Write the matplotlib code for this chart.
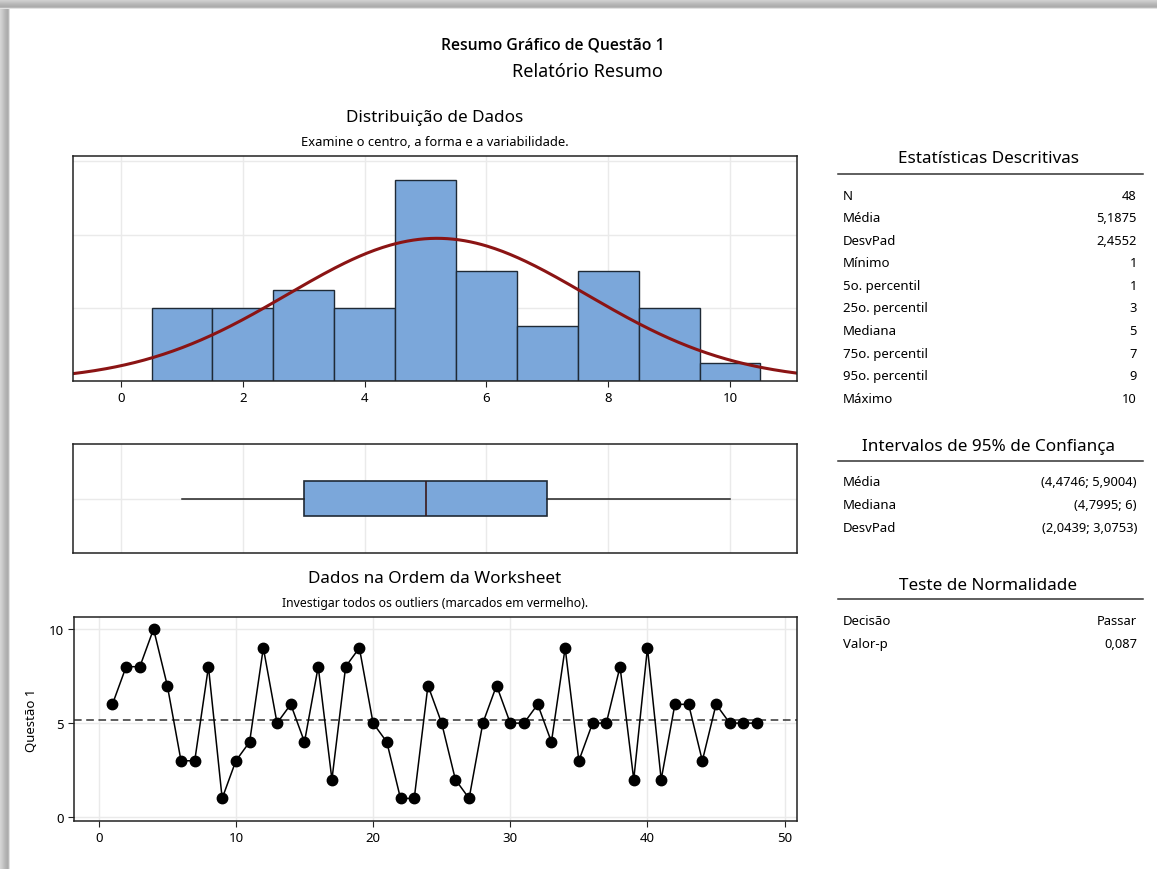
import numpy as np
import matplotlib
matplotlib.use('Agg')
import matplotlib.pyplot as plt
from matplotlib.patches import Rectangle

plt.rcParams['font.family'] = ['Noto Sans', 'DejaVu Sans']

# respostas na ordem da worksheet
questao1 = [6, 8, 8, 10, 7, 3, 3, 8, 1, 3,
            4, 9, 5, 6, 4, 8, 2, 8, 9, 5,
            4, 1, 1, 7, 5, 2, 1, 5, 7, 5,
            5, 6, 4, 9, 3, 5, 5, 8, 2, 9,
            2, 6, 6, 3, 6, 5, 5, 5]

desc_labels = ['N', 'Média', 'DesvPad', 'Mínimo', '5o. percentil', '25o. percentil',
               'Mediana', '75o. percentil', '95o. percentil', 'Máximo']
desc_values = ['48', '5,1875', '2,4552', '1', '1', '3', '5', '7', '9', '10']
ic_labels = ['Média', 'Mediana', 'DesvPad']
ic_values = ['(4,4746; 5,9004)', '(4,7995; 6)', '(2,0439; 3,0753)']
norm_labels = ['Decisão', 'Valor-p']
norm_values = ['Passar', '0,087']

W, H = 1157, 870
BAR = '#7BA7DA'
EDGE = '#1F2A36'
CURVE = '#8B1414'
GRID = '#EAEAEA'

fig = plt.figure(figsize=(W / 100, H / 100), dpi=100)
fig.patch.set_facecolor('white')


def box(l, t, r, b):
    return [l / W, 1 - b / H, (r - l) / W, (b - t) / H]


def fx(x):
    return x / W


def fy(y):
    return 1 - y / H


# sombra da janela (topo e esquerda)
shades = ['#d4d4d4', '#cfcfcf', '#c9c9c9', '#c2c2c2', '#bbbbbb', '#b5b5b5',
          '#b0b0b0', '#acacac', '#b8b8b8', '#e2e2e2']
for i, c in enumerate(shades):
    fig.add_artist(Rectangle((0, fy(i + 1)), 1, 1 / H, transform=fig.transFigure,
                             color=c, lw=0, zorder=0))
    fig.add_artist(Rectangle((fx(i), 0), 1 / W, fy(i), transform=fig.transFigure,
                             color=c, lw=0, zorder=0))

data = np.array(questao1)
n = len(data)
media = data.mean()
dp = data.std(ddof=1)


def style(ax):
    for s in ax.spines.values():
        s.set_color('#222222')
        s.set_linewidth(1.1)
    ax.set_axisbelow(True)
    ax.grid(True, color=GRID, lw=1)


# titulos
fig.text(fx(553), fy(45), 'Resumo Gráfico de Questão 1', ha='center', va='center',
         fontsize=11.3, fontweight='semibold', family=['Open Sans', 'DejaVu Sans'])
fig.text(fx(587), fy(72), 'Relatório Resumo', ha='center', va='center', fontsize=13)
fig.text(fx(435), fy(118), 'Distribuição de Dados', ha='center', va='center',
         fontsize=12.3)
fig.text(fx(435), fy(143), 'Examine o centro, a forma e a variabilidade.',
         ha='center', va='center', fontsize=9.3)
fig.text(fx(435), fy(579), 'Dados na Ordem da Worksheet', ha='center', va='center',
         fontsize=12.3)
fig.text(fx(435), fy(604), 'Investigar todos os outliers (marcados em vermelho).',
         ha='center', va='center', fontsize=8.8)

# histograma
ax1 = fig.add_axes(box(73, 157, 797, 382))
style(ax1)
ax1.hist(data, bins=np.arange(0.5, 11.5, 1), color=BAR, edgecolor=EDGE, lw=1)
xs = np.linspace(-1, 11.5, 400)
ys = n / (dp * np.sqrt(2 * np.pi)) * np.exp(-0.5 * ((xs - media) / dp) ** 2)
ax1.plot(xs, ys, color=CURVE, lw=2.2)
ax1.set_xlim(-0.79, 11.1)
ax1.set_ylim(0, 12.3)
ax1.set_xticks(range(0, 11, 2))
ax1.set_yticks([4, 8, 12])
ax1.tick_params(axis='y', left=False, labelleft=False)
ax1.tick_params(axis='x', labelsize=9.5, length=4, color='#222222')

# boxplot
ax2 = fig.add_axes(box(73, 445, 797, 554))
style(ax2)
ax2.boxplot(data, vert=False, positions=[1], widths=0.66, whis=(0, 100),
            patch_artist=True,
            boxprops=dict(facecolor=BAR, edgecolor=EDGE, lw=1.2),
            medianprops=dict(color='#3a1a1a', lw=1.2),
            whiskerprops=dict(color='#222222', lw=1.1),
            capprops=dict(lw=0), flierprops=dict(marker=''))
ax2.set_xlim(-0.79, 11.1)
ax2.set_ylim(0, 2)
ax2.set_xticks(range(0, 11, 2))
ax2.set_yticks([1])
ax2.tick_params(left=False, bottom=False, labelleft=False, labelbottom=False)

# ordem da worksheet
ax3 = fig.add_axes(box(74, 618, 797, 822))
style(ax3)
idx = np.arange(1, n + 1)
ax3.axhline(media, color='#333333', lw=1.1, ls=(0, (5, 3)))
ax3.plot(idx, data, color='black', lw=1.1, marker='o', ms=7.5, zorder=3)
ax3.set_xlim(-1.8, 50.9)
ax3.set_ylim(-0.2, 10.64)
ax3.set_xticks(range(0, 51, 10))
ax3.set_yticks([0, 5, 10])
ax3.tick_params(labelsize=9.5, length=4, color='#222222')
ax3.set_ylabel('Questão 1', fontsize=9.5)
ax3.yaxis.set_label_coords(-0.05, 0.5)


# tabelas a direita
def table(title, ty, line_y, labels, values, y0):
    fig.text(fx(988), fy(ty), title, ha='center', va='center', fontsize=12.3)
    fig.add_artist(plt.Line2D([fx(838), fx(1143)], [fy(line_y), fy(line_y)],
                              color='#333333', lw=1.1))
    for i, (lab, val) in enumerate(zip(labels, values)):
        y = fy(y0 + i * 22.6)
        fig.text(fx(843), y, lab, ha='left', va='center', fontsize=9.5)
        fig.text(fx(1137), y, val, ha='right', va='center', fontsize=9.3)


table('Estatísticas Descritivas', 159, 175, desc_labels, desc_values, 196)
table('Intervalos de 95% de Confiança', 447, 462, ic_labels, ic_values, 483)
table('Teste de Normalidade', 586, 600, norm_labels, norm_values, 622)

fig.savefig('out.png', dpi=100)
